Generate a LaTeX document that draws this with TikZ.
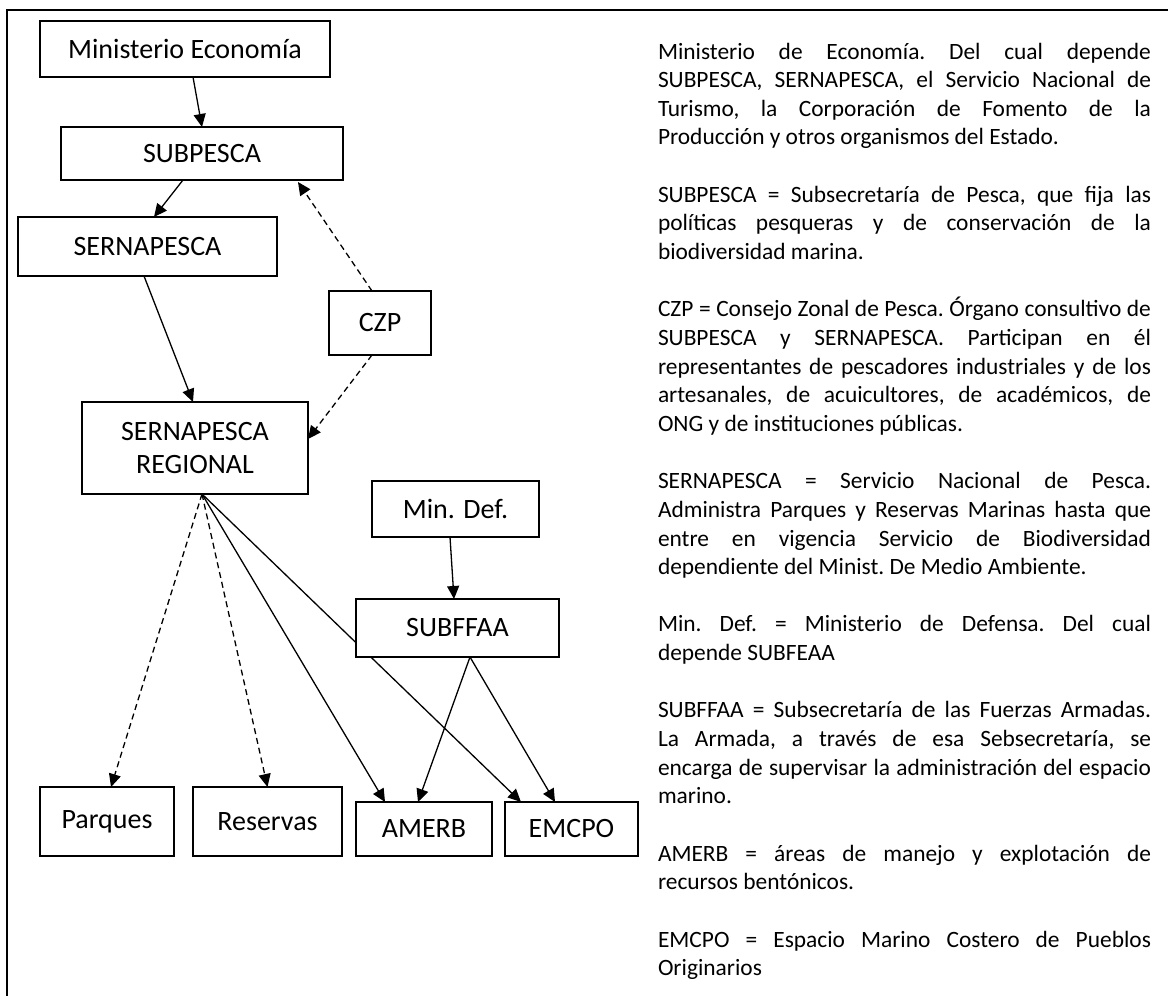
\documentclass[tikz,border=0pt]{standalone}
\usepackage{fontspec}
\setmainfont{Carlito}
\usetikzlibrary{arrows.meta,calc}
\begin{document}
\begin{tikzpicture}[x=1pt,y=-1pt,
  box/.style={draw, line width=1.6pt, fill=white, inner sep=0pt, outer sep=0pt,
    align=center, font=\fontsize{28}{33.6}\selectfont},
  conn/.style={line width=1.3pt, -{Triangle[length=13pt,width=12pt]}},
  dconn/.style={conn, dash pattern=on 6pt off 4pt},
  frame/.style={line width=1.6pt}]
\useasboundingbox (0,0) rectangle (1168,996);
\draw[frame] (1168,10) -- (7,10) -- (7,996);

% boxes
\node[box, minimum width=290pt, minimum height=56pt] (mecon) at (185,49) {Ministerio Economía};
\node[box, minimum width=282pt, minimum height=53pt] (subpesca) at (202,153.5) {SUBPESCA};
\node[box, minimum width=259pt, minimum height=59pt] (sernapesca) at (147.5,246.5) {SERNAPESCA};
\node[box, minimum width=102pt, minimum height=64pt] (czp) at (380,323) {CZP};
\node[box, minimum width=226pt, minimum height=92pt] (sr) at (195,448) {SERNAPESCA\\REGIONAL};
\node[box, minimum width=167pt, minimum height=56pt] (mindef) at (455.5,509) {Min. Def.};
\node[box, minimum width=134pt, minimum height=69pt] (parques) at (107,821.5) {Parques};
\node[box, minimum width=149pt, minimum height=69pt] (reservas) at (267.5,821.5) {Reservas};
\node[box, minimum width=136pt, minimum height=54pt] (amerb) at (424,829) {AMERB};
\node[box, minimum width=133pt, minimum height=54pt] (emcpo) at (571.5,829) {EMCPO};

% line passing behind SUBFFAA
\draw[conn] ($(sr.south)+(7,0)$) -- ($(emcpo.north)+(-50.5,0)$);
\node[box, minimum width=203pt, minimum height=58pt] (subffaa) at (457.5,628) {SUBFFAA};

% connectors
\draw[conn] ($(mecon.south)+(8,0)$) -- (subpesca.north);
\draw[conn] ($(subpesca.south)+(-19,0)$) -- ($(sernapesca.north)+(6.5,0)$);
\draw[dconn] ($(czp.north)+(-8,0)$) -- ($(subpesca.south)+(96,2)$);
\draw[conn] ($(sernapesca.south)+(-3.5,0)$) -- ($(sr.north)+(-2,0)$);
\draw[dconn] ($(czp.south)+(-8,0)$) -- ($(sr.east)+(0,-9)$);
\draw[conn] ($(mindef.south)+(-5.5,0)$) -- ($(subffaa.north)+(-3.5,0)$);
\draw[dconn] ($(sr.south)+(7,0)$) -- ($(parques.north)+(4,0)$);
\draw[dconn] ($(sr.south)+(7,0)$) -- (reservas.north);
\draw[conn] ($(sr.south)+(7,0)$) -- ($(amerb.north)+(-39,0)$);
\draw[conn] ($(subffaa.south)+(12.5,0)$) -- ($(amerb.north)+(-6,0)$);
\draw[conn] ($(subffaa.south)+(12.5,0)$) -- ($(emcpo.north)+(-16.5,0)$);

% description text
\node[anchor=base west, inner sep=0pt, outer sep=0pt] (desc) at (658,59) {\parbox[t]{493pt}{%
\fontsize{23.4}{28.65}\selectfont\frenchspacing\tolerance=10000\emergencystretch=20pt
\hyphenpenalty=10000\exhyphenpenalty=10000\parindent=0pt
Ministerio de Economía. Del cual depende\linebreak
SUBPESCA, SERNAPESCA, el Servicio Nacional de\linebreak
Turismo, la Corporación de Fomento de la\linebreak
Producción y otros organismos del Estado.\par\vspace{28.65pt}
SUBPESCA = Subsecretaría de Pesca, que fija las\linebreak
políticas pesqueras y de conservación de la\linebreak
biodiversidad marina.\par\vspace{28.65pt}
CZP = Consejo Zonal de Pesca. Órgano consultivo de\linebreak
SUBPESCA y SERNAPESCA. Participan en él\linebreak
representantes de pescadores industriales y de los\linebreak
artesanales, de acuicultores, de académicos, de\linebreak
ONG y de instituciones públicas.\par\vspace{28.65pt}
SERNAPESCA = Servicio Nacional de Pesca.\linebreak
Administra Parques y Reservas Marinas hasta que\linebreak
entre en vigencia Servicio de Biodiversidad\linebreak
dependiente del Minist. De Medio Ambiente.\par\vspace{28.65pt}
Min. Def. = Ministerio de Defensa. Del cual\linebreak
depende SUBFEAA\par\vspace{28.65pt}
SUBFFAA = Subsecretaría de las Fuerzas Armadas.\linebreak
La Armada, a través de esa Sebsecretaría, se\linebreak
encarga de supervisar la administración del espacio\linebreak
marino.\par\vspace{28.65pt}
AMERB = áreas de manejo y explotación de\linebreak
recursos bentónicos.\par\vspace{28.65pt}
EMCPO = Espacio Marino Costero de Pueblos\linebreak
Originarios}};
\end{tikzpicture}
\end{document}
